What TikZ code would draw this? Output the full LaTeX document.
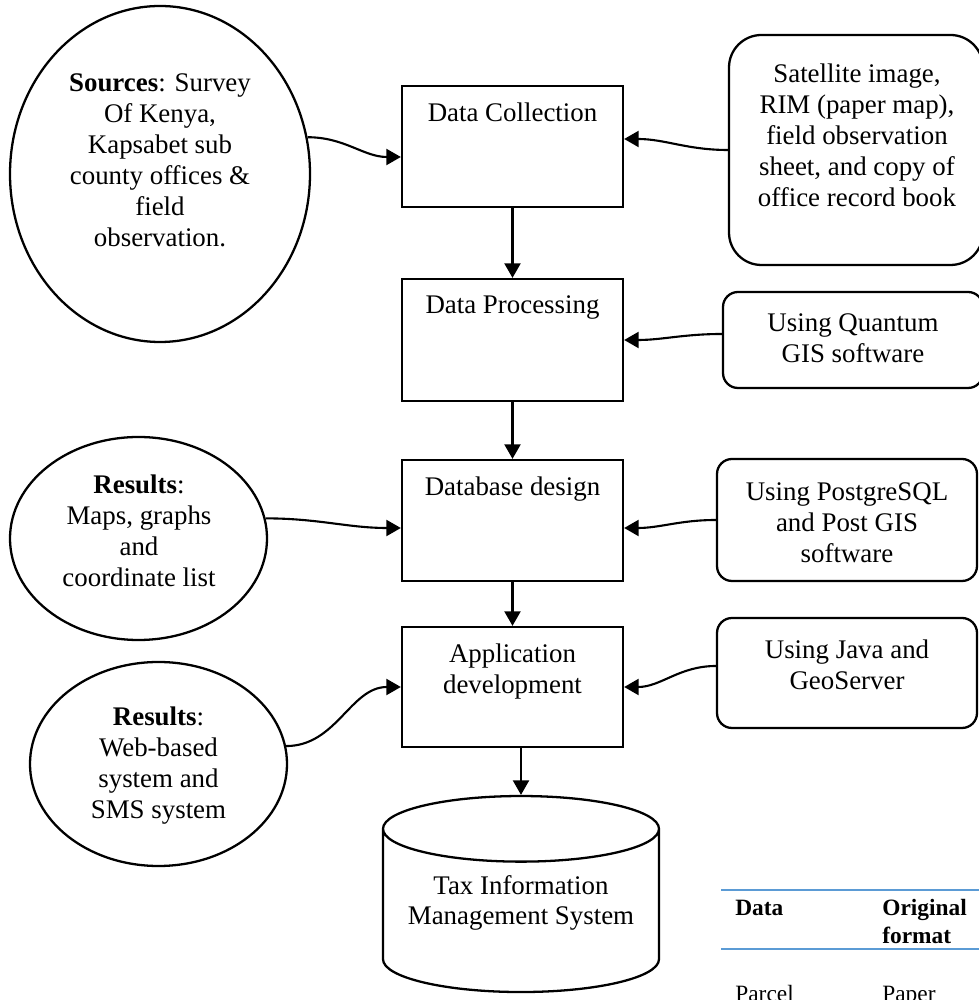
\documentclass[tikz,border=0pt]{standalone}
\usepackage{fontspec}
\setmainfont{Liberation Serif}
\usetikzlibrary{arrows.meta,positioning,shapes.geometric}
\definecolor{tblue}{RGB}{91,155,213}
\tikzset{stepbox/.style={draw,line width=1.3pt,minimum width=4.42cm,inner sep=0pt},
  sidebox/.style={draw,line width=1.3pt,rounded corners=0.3cm,inner sep=0pt},
  bubble/.style={draw,ellipse,line width=1.3pt,inner sep=0pt},
  txt/.style={align=center,inner sep=0pt,anchor=north},
  tabtxt/.style={font=\fontsize{13.3}{15.9}\selectfont,inner sep=0pt,align=left},
  arr/.style={-{Triangle[length=2.9mm,width=3.2mm]},line width=1.2pt}}

\begin{document}
\begin{tikzpicture}[font=\fontsize{15.3}{17.6}\selectfont]
\clip (0,0) rectangle (19.58,20);
% main steps
\node[stepbox,minimum height=2.42cm] (dc) at (10.25,17.07) {};
\node[stepbox,minimum height=2.44cm] (dp) at (10.25,13.2) {};
\node[stepbox,minimum height=2.42cm] (db) at (10.25,9.59) {};
\node[stepbox,minimum height=2.4cm] (ad) at (10.25,6.26) {};
\node[txt,below=0.35cm of dc.north] (dclab) {Data Collection};
\node[txt,below=0.35cm of dp.north] (dplab) {Data Processing};
\node[txt,below=0.35cm of db.north] (dblab) {Database design};
\node[txt,below=0.35cm of ad.north] (adlab) {Application\\development};
\node[draw,cylinder,shape border rotate=90,aspect=0.29,minimum width=5.52cm,minimum height=3.92cm,
  line width=1.3pt,align=center,inner sep=0pt,text depth=0.44cm] (tis) at (10.42,1.78) {Tax Information\\Management System};
% sources and results
\node[bubble,minimum width=6cm,minimum height=6.72cm] (src) at (3.2,16.52) {};
\node[bubble,minimum width=5.14cm,minimum height=4.06cm] (res1) at (2.77,9.23) {};
\node[bubble,minimum width=5.14cm,minimum height=4.08cm] (res2) at (3.17,4.72) {};
\node[txt] (srclab) at (3.2,18.53) {\textbf{Sources}: Survey\\Of Kenya,\\Kapsabet sub\\county offices \&\\field\\observation.};
\node[txt] (res1lab) at (2.78,10.51) {\textbf{Results}:\\Maps, graphs\\and\\coordinate list};
\node[txt] (res2lab) at (3.17,5.87) {\textbf{Results}:\\Web-based\\system and\\SMS system};
% tools
\node[sidebox,rounded corners=0.65cm,minimum width=5.08cm,minimum height=4.6cm] (sat) at (17.12,17.0) {};
\node[sidebox,minimum width=5.2cm,minimum height=1.92cm] (qgis) at (17.06,13.2) {};
\node[sidebox,minimum width=5.2cm,minimum height=2.44cm] (pg) at (16.94,9.6) {};
\node[sidebox,minimum width=5.2cm,minimum height=2.2cm] (java) at (16.94,6.54) {};
\node[txt] (satlab) at (17.14,18.73) {Satellite image,\\RIM (paper map),\\field observation\\sheet, and copy of\\office record book};
\node[txt] (qgislab) at (17.06,13.73) {Using Quantum\\GIS software};
\node[txt] (pglab) at (16.94,10.35) {Using PostgreSQL\\and Post GIS\\software};
\node[txt] (javalab) at (16.94,7.21) {Using Java and\\GeoServer};
% connectors
\draw[arr] (src.14) to[out=0,in=180] ([yshift=-2.1mm]dc.west);
\draw[arr] (sat.west) to[out=180,in=0] ([yshift=1.5mm]dc.east);
\draw[arr] (dc) -- (dp);
\draw[arr] ([yshift=1.2mm]qgis.west) to[out=180,in=0] (dp.east);
\draw[arr] (dp) -- (db);
\draw[arr] (res1.9) to[out=0,in=180] ([yshift=-1.5mm]db.west);
\draw[arr] (pg.west) to[out=180,in=0] ([yshift=-1.5mm]db.east);
\draw[arr] (db) -- (ad);
\draw[arr] (res2.8) to[out=0,in=180] (ad.west);
\draw[arr] ([yshift=1.4mm]java.west) to[out=180,in=0] (ad.east);
\draw[arr] (ad.south -| tis.north) -- (tis.north);
% table fragment
\draw[tblue,line width=1.4pt] (14.42,2.2) -- (19.58,2.2);
\draw[tblue,line width=1.4pt] (14.42,1.02) -- (19.58,1.02);
\node[tabtxt,anchor=base west] (thdata) at (14.7,1.7) {\textbf{Data}};
\node[tabtxt,anchor=north west] (thorig) at (17.64,2.03) {\textbf{Original}\\\textbf{format}};
\node[tabtxt,anchor=base west] (tparcel) at (14.7,-0.02) {Parcel};
\node[tabtxt,anchor=base west] (tpaper) at (17.64,-0.02) {Paper};
\end{tikzpicture}
\end{document}
